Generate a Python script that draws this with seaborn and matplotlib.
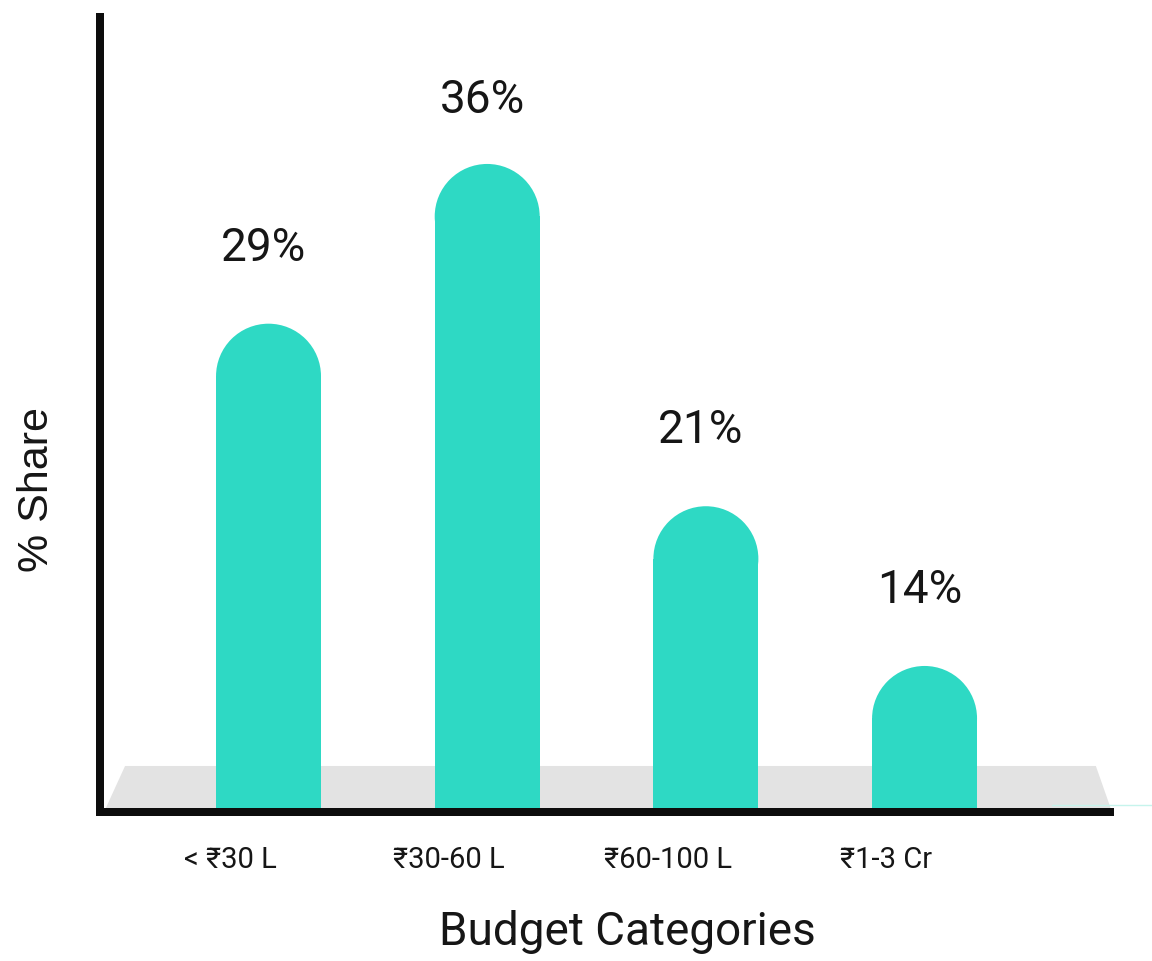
import matplotlib
matplotlib.use("Agg")
import matplotlib.pyplot as plt
import matplotlib.transforms as mtransforms
from matplotlib.patches import Ellipse, Polygon
from matplotlib.lines import Line2D
import seaborn as sns
import pandas as pd

# Share of buyers by budget bracket
categories = ["< ₹30 L", "₹30-60 L", "₹60-100 L", "₹1-3 Cr"]
shares = [29, 36, 21, 14]

BAR_COLOR = "#2ED9C4"
TEXT_COLOR = "#161616"
FONT = ["Roboto", "Noto Sans", "DejaVu Sans"]

sns.set_theme(style="white")
plt.rcParams["font.family"] = FONT

W, H, DPI = 1152, 962, 100
AX_LEFT, AX_RIGHT, AX_TOP, AX_BOTTOM = 100, 1110, 18, 813
fig = plt.figure(figsize=(W / DPI, H / DPI), dpi=DPI)
ax = fig.add_axes([AX_LEFT / W, 1 - AX_BOTTOM / H,
                   (AX_RIGHT - AX_LEFT) / W, (AX_BOTTOM - AX_TOP) / H])

df = pd.DataFrame({"category": categories, "share": shares})
bar_width = 0.48
sns.barplot(data=df, x="category", y="share", color=BAR_COLOR, saturation=1,
            width=bar_width, ax=ax, zorder=3)

ax.set_xlim(-0.7706, 3.848)
ax.set_ylim(7.6, 42.44)

# rounded bar tops: shorten each rectangle and cap it with a half circle
ax_w_px = AX_RIGHT - AX_LEFT
ax_h_px = AX_BOTTOM - AX_TOP
px_per_x = ax_w_px / (ax.get_xlim()[1] - ax.get_xlim()[0])
px_per_y = ax_h_px / (ax.get_ylim()[1] - ax.get_ylim()[0])
r_px = bar_width * px_per_x / 2
r_y = r_px / px_per_y

y_top = ax.get_ylim()[1]
for patch, val in zip(ax.patches, shares):
    x0 = patch.get_x()
    w = patch.get_width()
    patch.set_height(val - r_y)
    patch.set_linewidth(0)
    ax.add_patch(Ellipse((x0 + w / 2, val - r_y), w, 2 * r_y,
                         facecolor=BAR_COLOR, edgecolor="none", zorder=3))
    # value label above the rounded top, kept inside the plotting area
    label_y = min(val + 77 / px_per_y, y_top - 82 / px_per_y)
    ax.text(x0 + w / 2 - 5 / px_per_x, label_y, f"{val}%", ha="center",
            va="center", fontsize=33, color=TEXT_COLOR, family=FONT)

# grey floor behind the bars
floor = Polygon([(0.004, 0.0), (0.0248, 0.0579), (0.986, 0.0579), (1.002, 0.0)],
                closed=True, transform=ax.transAxes, facecolor="#E3E3E3",
                edgecolor="none", zorder=1, clip_on=False)
ax.add_patch(floor)

# axes styling
for side in ["top", "right"]:
    ax.spines[side].set_visible(False)
for side in ["left", "bottom"]:
    ax.spines[side].set_color("#0D0D0D")
    ax.spines[side].set_linewidth(5.76)
    ax.spines[side].set_zorder(5)
ax.set_yticks([])
ax.tick_params(axis="x", length=0, pad=24, labelsize=21, labelcolor=TEXT_COLOR)
ax.set_xlabel("")
ax.set_ylabel("")
shift = mtransforms.ScaledTranslation(-38 / DPI, 0, fig.dpi_scale_trans)
for lbl in ax.get_xticklabels():
    lbl.set_transform(lbl.get_transform() + shift)
    lbl.set_family(FONT)

fig.text(627 / W, 1 - 932 / H, "Budget Categories", ha="center", va="center",
         fontsize=33, color=TEXT_COLOR, family=FONT)
fig.text(37 / W, 1 - 489 / H, "% Share", ha="center", va="center",
         rotation=90, fontsize=31, color=TEXT_COLOR,
         family=["Liberation Sans", "DejaVu Sans"])

# faint baseline accent on the right
fig.add_artist(Line2D([1052 / W, 1.0], [1 - 806 / H, 1 - 806 / H],
                      transform=fig.transFigure, color="#C6F4EC", lw=1))

fig.savefig("out.png", dpi=DPI, facecolor="white")
